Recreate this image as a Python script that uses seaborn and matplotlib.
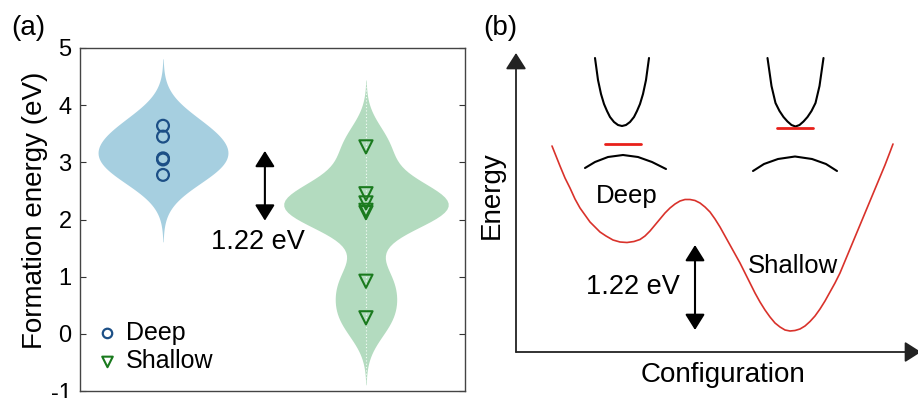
import numpy as np
import pandas as pd
import matplotlib
matplotlib.use("Agg")
import matplotlib.pyplot as plt
import seaborn as sns

# ---------------- panel (a) data ----------------
categories = ["Deep", "Shallow"]
deep_energy = [3.64, 3.45, 3.07, 3.05, 2.78]
shallow_energy = [3.27, 2.45, 2.29, 2.16, 2.12, 0.92, 0.28]
yticks = [-1, 0, 1, 2, 3, 4, 5]
gap_label = "1.22 eV"
gap_top, gap_bottom = 3.20, 1.98

# ---------------- panel (b) schematic data ----------------
well_config = [36, 40, 44, 49, 54, 59, 64, 69, 74, 79, 84, 90, 97, 104, 111, 118, 124, 129, 134,
               139, 144, 149, 154, 159, 164, 169, 174, 179, 184, 189, 194, 199, 204, 209, 214,
               219, 224, 229, 234, 239, 244, 249, 254, 259, 264, 269, 274, 279, 284, 289, 294,
               299, 304, 309, 314, 319, 324, 329, 334, 339, 344, 349, 354, 359, 364, 369, 374, 377]
well_energy = [206, 196, 186, 174, 164, 153, 144, 137, 130, 125, 120, 116, 112, 110, 109.5, 110.5,
               112.5, 116, 121, 127, 133, 139, 144, 148, 151, 152.5, 152.5, 151.5, 149, 145, 140,
               133, 125, 116, 107, 98, 89, 79, 69, 59, 50, 42, 35, 29, 25, 22, 21, 21.5, 23, 26,
               30.5, 36, 43, 51, 60, 69, 79, 91, 103, 115, 127, 139, 151, 163, 175, 187, 200, 208]

deep_cb_config = [79, 82, 85, 88, 91, 94, 98, 102, 106, 110, 114, 118, 121, 124, 127, 130, 133]
deep_cb_energy = [294, 272, 258, 248, 241, 235, 230, 227, 226, 227, 230, 235, 241, 248, 258, 272, 294]
deep_vb_config = [69, 79, 92, 107, 122, 136, 150]
deep_vb_energy = [184, 190, 195, 197, 195, 190, 183]
deep_level_config = [89, 125]
deep_level_energy = [208, 208]

shallow_cb_config = [251.5, 255.5, 259.5, 263.5, 267.5, 271.5, 275.5, 279.5, 283.5, 287.5, 291.5,
                     295.5, 299.5, 303.5, 307.5]
shallow_cb_energy = [294, 266, 249, 241, 235, 230.5, 227, 225.5, 227, 230.5, 235, 241, 249, 266, 294]
shallow_vb_config = [237, 248, 262, 279, 296, 310, 321]
shallow_vb_energy = [181, 188, 193, 195.5, 193, 188, 181]
shallow_level_config = [261, 297]
shallow_level_energy = [224, 224]

# colours
deep_fill = "#a6cfe0"
shallow_fill = "#b3dbbf"
deep_edge = "#1c4f86"
shallow_edge = "#1a7a1e"
red = "#d9322b"

sns.set_theme(style="ticks")
plt.rcParams["font.family"] = ["Liberation Sans", "DejaVu Sans"]
plt.rcParams["axes.unicode_minus"] = False
plt.rcParams["text.color"] = "black"
plt.rcParams["axes.labelcolor"] = "black"
plt.rcParams["ytick.color"] = "black"
plt.rcParams["xtick.color"] = "black"

fig = plt.figure(figsize=(9.18, 3.98), dpi=100)

# ================= panel (a) =================
ax = fig.add_axes([80 / 918, 7 / 398, 385 / 918, 343 / 398])

df = pd.DataFrame({
    "kind": ["Deep"] * len(deep_energy) + ["Shallow"] * len(shallow_energy),
    "energy": deep_energy + shallow_energy,
})
d_deep = df[df["kind"] == "Deep"]
d_shal = df[df["kind"] == "Shallow"]

h = 0.39
sns.violinplot(data=d_deep, x="kind", y="energy", order=categories, ax=ax,
               bw_method=h / np.std(deep_energy, ddof=1), cut=3, inner=None,
               linewidth=0, color=deep_fill, saturation=1, density_norm="width", width=0.64)
sns.violinplot(data=d_shal, x="kind", y="energy", order=categories, ax=ax,
               bw_method=h / np.std(shallow_energy, ddof=1), cut=3, inner=None,
               linewidth=0, color=shallow_fill, saturation=1, density_norm="width", width=0.81)

# faint dotted centre line inside the shallow violin
shal_poly = ax.collections[-1]
ln = ax.axvline(1, color="white", ls=(0, (1, 2)), lw=0.8, alpha=0.9)
ln.set_clip_path(shal_poly.get_paths()[0], shal_poly.get_transform())

sns.stripplot(data=d_deep, x="kind", y="energy", order=categories, ax=ax, jitter=False,
              marker="o", size=8.5, linewidth=1.6, edgecolor=deep_edge, facecolor="none",
              color=deep_edge, label="Deep", zorder=3)
sns.stripplot(data=d_shal, x="kind", y="energy", order=categories, ax=ax, jitter=False,
              marker="v", size=9.5, linewidth=1.5, edgecolor=shallow_edge, facecolor="none",
              color=shallow_edge, label="Shallow", zorder=3)

ax.set_xlim(-0.409, 1.488)
ax.set_ylim(-1, 5)
ax.set_yticks(yticks)
ax.set_xticks([])
ax.set_xlabel("")
ax.set_ylabel("Formation energy (eV)", fontsize=20)
ax.yaxis.set_label_coords(-0.083, 0.528)
ax.tick_params(axis="y", direction="in", left=True, right=True, length=4, width=0.8,
               labelsize=17, pad=6, colors="#333333", labelcolor="black")
for s in ax.spines.values():
    s.set_color("#444444")
    s.set_linewidth(1.0)

ax.annotate("", xy=(0.502, gap_bottom), xytext=(0.502, gap_top),
            arrowprops=dict(arrowstyle="<|-|>,head_length=0.48,head_width=0.3",
                            mutation_scale=20, lw=1.5, color="black", shrinkA=0, shrinkB=0))
ax.text(0.468, 1.60, gap_label, fontsize=19.5, ha="center", va="center")

handles, labels = ax.get_legend_handles_labels()
uniq = {}
for hd, lb in zip(handles, labels):
    if lb not in uniq:
        uniq[lb] = hd
leg = ax.legend(list(uniq.values()), list(uniq.keys()), loc="lower left",
                bbox_to_anchor=(0.0, 0.0), frameon=False, fontsize=18,
                markerscale=0.8, handlelength=0.8, handletextpad=0.35, labelspacing=0.18,
                borderaxespad=0.35, borderpad=0.35)

fig.text(28 / 918, 1 - 28 / 398, "(a)", fontsize=20, ha="center", va="center")

# ================= panel (b) =================
axb = fig.add_axes([516 / 918, 46 / 398, 402 / 918, 312 / 398])
axb.set_xlim(0, 402)
axb.set_ylim(0, 312)

sns.lineplot(x=well_config, y=well_energy, sort=False, estimator=None, color=red, lw=1.2, ax=axb)
for cx, cy in [(deep_cb_config, deep_cb_energy), (deep_vb_config, deep_vb_energy),
               (shallow_cb_config, shallow_cb_energy), (shallow_vb_config, shallow_vb_energy)]:
    sns.lineplot(x=cx, y=cy, sort=False, estimator=None, color="black", lw=1.5, ax=axb)
for cx, cy in [(deep_level_config, deep_level_energy), (shallow_level_config, shallow_level_energy)]:
    sns.lineplot(x=cx, y=cy, sort=False, estimator=None, color="#e8201a", lw=2.0, ax=axb)
axb.axis("off")

axis_arrow = dict(arrowstyle="-|>,head_length=0.55,head_width=0.35", mutation_scale=18,
                  lw=1.3, color="#222222", shrinkA=0, shrinkB=0)
axb.annotate("", xy=(0, 299), xytext=(0, 0), arrowprops=axis_arrow, annotation_clip=False)
axb.annotate("", xy=(405, 0), xytext=(0, 0), arrowprops=axis_arrow, annotation_clip=False)

axb.annotate("", xy=(179, 22), xytext=(179, 107),
             arrowprops=dict(arrowstyle="<|-|>,head_length=0.48,head_width=0.3",
                             mutation_scale=20, lw=1.5, color="black", shrinkA=0, shrinkB=0))
axb.text(117, 65, gap_label, fontsize=19.5, ha="center", va="center")
axb.text(111, 156, "Deep", fontsize=18.5, ha="center", va="center")
axb.text(277, 86, "Shallow", fontsize=18.5, ha="center", va="center")
axb.text(-24, 157, "Energy", fontsize=20, ha="center", va="center", rotation=90, clip_on=False)
axb.text(207, -23, "Configuration", fontsize=20, ha="center", va="center", clip_on=False)

fig.text(500 / 918, 1 - 28 / 398, "(b)", fontsize=20, ha="center", va="center")

fig.savefig("out.png", dpi=100)
